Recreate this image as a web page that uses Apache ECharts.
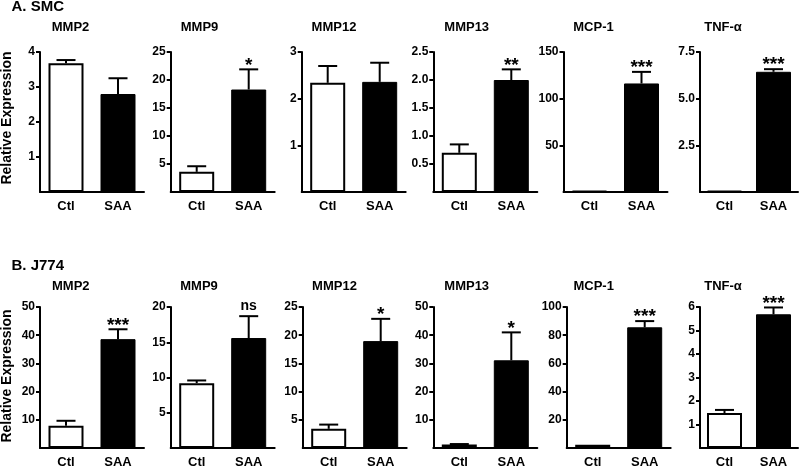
<!DOCTYPE html>
<html><head><meta charset="utf-8">
<script src="https://cdn.jsdelivr.net/npm/echarts@6/dist/echarts.min.js"></script>
<style>html,body{margin:0;padding:0;background:#fff}#c{width:800px;height:469px}</style>
</head><body><div id="c"></div>
<script>
const categories = ['Ctl', 'SAA'];
const panelTitles = ['MMP2', 'MMP9', 'MMP12', 'MMP13', 'MCP-1', 'TNF-α'];
const rowTitles = ['A. SMC', 'B. J774'];
const yAxisTitle = 'Relative Expression';

// A. SMC
const smcCtl = [3.68, 3.6, 2.34, 0.70, 1.0, 0.06];
const smcCtlErr = [0.09, 1.0, 0.36, 0.15, 0, 0];
const smcSaa = [2.80, 18.3, 2.36, 2.00, 116.3, 6.44];
const smcSaaErr = [0.45, 3.6, 0.41, 0.19, 12.4, 0.14];
const smcSig = ['', '*', '', '**', '***', '***'];
const smcYMax = [4, 25, 3, 2.5, 150, 7.5];
const smcYStep = [1, 5, 1, 0.5, 50, 2.5];
const smcYDecimals = [0, 0, 0, 1, 0, 1];

// B. J774
const j774Ctl = [7.9, 9.2, 3.4, 1.2, 2.3, 1.49];
const j774CtlErr = [1.75, 0.38, 0.75, 0.2, 0.3, 0.13];
const j774Saa = [38.6, 15.6, 18.95, 31.1, 85.6, 5.69];
const j774SaaErr = [3.5, 3.1, 3.95, 9.9, 4.4, 0.29];
const j774Sig = ['***', 'ns', '*', '*', '***', '***'];
const j774YMax = [50, 20, 25, 50, 100, 6];
const j774YStep = [10, 5, 5, 10, 20, 1];
const j774YDecimals = [0, 0, 0, 0, 0, 0];

const FONT = '"Liberation Sans", Arial, Helvetica, sans-serif';
const rowsData = [
  {ctl: smcCtl, ctlErr: smcCtlErr, saa: smcSaa, saaErr: smcSaaErr, sig: smcSig, yMax: smcYMax, yStep: smcYStep, yDec: smcYDecimals},
  {ctl: j774Ctl, ctlErr: j774CtlErr, saa: j774Saa, saaErr: j774SaaErr, sig: j774Sig, yMax: j774YMax, yStep: j774YStep, yDec: j774YDecimals}
];
const layout = [
  {top: 52, height: 140, lefts: [40, 170.7, 301.7, 433.3, 563.5, 700], titleX: [70.5, 199.5, 334, 466.7, 593.5, 723], titleY: 27, headerY: 7, ylabelY: 118},
  {top: 307, height: 142.5, lefts: [40, 170.7, 302.7, 433.3, 566.7, 700], titleX: [70.8, 199, 334.5, 466.7, 593.7, 723], titleY: 286.5, headerY: 266, ylabelY: 376}
];

const grids = [], xAxes = [], yAxes = [], series = [], graphics = [];
rowsData.forEach((rd, r) => {
  const L = layout[r];
  graphics.push({type: 'text', x: 11.5, y: L.headerY, style: {text: rowTitles[r], font: 'bold 15px ' + FONT, fill: '#000', align: 'left', verticalAlign: 'middle'}});
  graphics.push({type: 'text', x: 7.5, y: L.ylabelY, rotation: Math.PI / 2, style: {text: yAxisTitle, font: 'bold 14px ' + FONT, fill: '#000', align: 'center', verticalAlign: 'middle'}});
  for (let i = 0; i < 6; i++) {
    const idx = r * 6 + i;
    graphics.push({type: 'text', x: L.titleX[i], y: L.titleY, style: {text: panelTitles[i], font: 'bold 13px ' + FONT, fill: '#000', align: 'center', verticalAlign: 'middle'}});
    grids.push({left: L.lefts[i], top: L.top, width: i === 5 ? 98 : 104, height: L.height, containLabel: false});
    xAxes.push({
      gridIndex: idx, type: 'category', data: categories,
      axisLine: {lineStyle: {color: '#000', width: 2}}, axisTick: {show: false},
      axisLabel: {color: '#000', fontFamily: FONT, fontWeight: 'bold', fontSize: 13, margin: 8}
    });
    const dec = rd.yDec[i];
    yAxes.push({
      gridIndex: idx, type: 'value', min: 0, max: rd.yMax[i], interval: rd.yStep[i],
      splitLine: {show: false},
      axisLine: {show: true, lineStyle: {color: '#000', width: 2}},
      axisTick: {show: true, length: 4, lineStyle: {color: '#000', width: 2}},
      axisLabel: {showMinLabel: false, color: '#000', fontFamily: FONT, fontWeight: 'bold', fontSize: 12, margin: 5,
        formatter: v => v.toFixed(dec)}
    });
    series.push({
      type: 'bar', xAxisIndex: idx, yAxisIndex: idx, barWidth: 35, silent: true, animation: false,
      data: [
        {value: rd.ctl[i], itemStyle: {color: '#fff', borderColor: '#000', borderWidth: 2}},
        {value: rd.saa[i], itemStyle: {color: '#000', borderColor: '#000', borderWidth: 1}}
      ]
    });
    const sig = rd.sig[i];
    series.push({
      type: 'custom', xAxisIndex: idx, yAxisIndex: idx, silent: true, animation: false, z: 5,
      data: [[0, rd.ctl[i], rd.ctl[i] + rd.ctlErr[i]], [1, rd.saa[i], rd.saa[i] + rd.saaErr[i]]],
      renderItem: (params, api) => {
        const x = api.value(0);
        const base = api.coord([x, api.value(1)]);
        const top = api.coord([x, api.value(2)]);
        const children = [];
        if (base[1] - top[1] > 0.5) {
          children.push({type: 'line', shape: {x1: base[0], y1: base[1], x2: top[0], y2: top[1]}, style: {stroke: '#000', lineWidth: 2}});
          children.push({type: 'line', shape: {x1: top[0] - 9.5, y1: top[1], x2: top[0] + 9.5, y2: top[1]}, style: {stroke: '#000', lineWidth: 2}});
        }
        const s = x === 1 ? sig : '';
        if (s) {
          const isNs = s === 'ns';
          children.push({type: 'text', style: {text: s, x: top[0], y: top[1] - (isNs ? 10.5 : 4), align: 'center', verticalAlign: 'middle', fill: '#000',
            font: 'bold ' + (isNs ? 14 : 19) + 'px ' + FONT}});
        }
        return {type: 'group', children};
      }
    });
  }
});

const chart = echarts.init(document.getElementById('c'), null, {renderer: 'canvas'});
chart.setOption({
  animation: false,
  backgroundColor: '#fff',
  grid: grids, xAxis: xAxes, yAxis: yAxes, series: series,
  graphic: {elements: graphics}
});
</script>
</body></html>
